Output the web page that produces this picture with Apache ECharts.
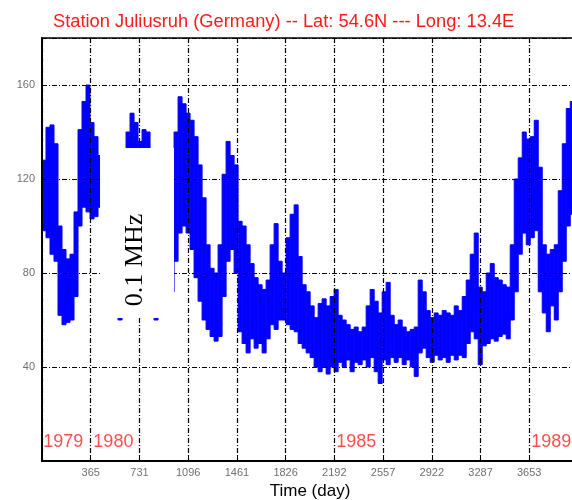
<!DOCTYPE html>
<html>
<head>
<meta charset="utf-8">
<script src="https://cdn.jsdelivr.net/npm/echarts@6/dist/echarts.min.js"></script>
<style>
  html, body { margin: 0; padding: 0; background: #fff; }
  #chart { width: 572px; height: 500px; }
</style>
</head>
<body>
<div id="chart"></div>
<script>
// 0.1 MHz noise level, binned every 30 days: low / high of each bin
const binDays = 30;
const lowVals = [
  98, 95, 88, 85, 62, 58, 59, 60, 70, 100,
  108, 106, 103, 104, 108, 95, 85, 75, 66, 60,
  70, 95, 105, 105, 100, 95, 90, 75, 60, 68,
  80, 90, 72, 85, 97, 100, 97, 90, 78, 68,
  60, 56, 53, 51, 53, 70, 85, 90, 80, 55,
  50, 46, 52, 48, 50, 46, 52, 58, 56, 60,
  60, 58, 56, 55, 50, 48, 46, 44, 40, 38,
  40, 37, 40, 38, 42, 40, 43, 38, 42, 41,
  43, 40, 44, 38, 33, 43, 41, 44, 42, 44,
  41, 43, 40, 36, 46, 48, 44, 42, 45, 43,
  44, 42, 45, 43, 45, 44, 50, 55, 52, 41,
  49, 50, 52, 51, 53, 54, 52, 60, 72, 88,
  97, 92, 95, 98, 72, 63, 55, 66, 60, 72,
  85, 100, 105
];
const highVals = [
  128, 142, 143, 135, 100, 90, 86, 88, 106, 141,
  153, 160, 144, 138, 130, 128, 122, 115, 110, 112,
  125, 140, 148, 144, 136, 141, 140, 125, 110, 112,
  125, 132, 119, 140, 155, 152, 148, 145, 138, 126,
  112, 92, 82, 80, 92, 122, 136, 130, 126, 102,
  100, 92, 84, 78, 75, 73, 77, 92, 101, 85,
  80, 95, 105, 109, 87, 75, 72, 66, 61, 67,
  69, 66, 70, 73, 62, 60, 58, 56, 57, 55,
  57, 66, 73, 68, 63, 72, 76, 62, 58, 60,
  57, 55, 56, 57, 77, 72, 64, 61, 63, 62,
  64, 63, 62, 66, 64, 70, 77, 88, 97, 74,
  72, 80, 84, 78, 77, 75, 74, 92, 120, 129,
  140, 137, 138, 145, 125, 92, 88, 90, 92, 115,
  135, 150, 153
];

// x axis: year boundaries in days
const yearDays = 365.25;
const dayMax = 4018;

// red year marks inside the plot
const yearNames = ['1979', '1980', '1985', '1989'];
const yearStart = [10, 385, 2206, 3668];
const yearLabelLevel = 8;

const titleText = 'Station Juliusruh (Germany) -- Lat: 54.6N --- Long: 13.4E';

// one [start, end, low, high] record per bin
const binData = lowVals.map((lo, i) => [i * binDays, (i + 1) * binDays, lo, highVals[i]]);

const gridLine = {
  show: true,
  lineStyle: { color: '#000', width: 1.2, type: [5, 2, 1, 2] }
};

const chart = echarts.init(document.getElementById('chart'));
chart.setOption({
  animation: false,
  title: {
    text: titleText,
    left: 53,
    top: 13,
    padding: 0,
    textStyle: { color: '#ff1a1a', fontSize: 18.3, fontWeight: 'normal', fontFamily: 'Liberation Sans' }
  },
  grid: {
    left: 42, top: 38, width: 536, height: 423,
    show: true, borderColor: '#000', borderWidth: 1.5,
    containLabel: false,
    outerBoundsMode: 'none'
  },
  xAxis: {
    type: 'value',
    min: 0, max: dayMax, interval: yearDays,
    z: 10,
    axisLine: { lineStyle: { color: '#000', width: 2 } },
    axisTick: { inside: true, length: 5, lineStyle: { color: '#000' } },
    axisLabel: {
      color: '#707070', fontSize: 11, fontFamily: 'Liberation Sans', margin: 6,
      formatter: v => (v === 0 || v > 4000 ? '' : String(Math.round(v)))
    },
    splitLine: gridLine,
    name: 'Time (day)',
    nameLocation: 'middle',
    nameGap: 22,
    nameTextStyle: { color: '#000', fontSize: 17, fontFamily: 'Liberation Sans', verticalAlign: 'top' }
  },
  yAxis: {
    type: 'value',
    min: 0, max: 180, interval: 40,
    z: 10,
    axisLine: { show: true, lineStyle: { color: '#000', width: 2 } },
    axisTick: { show: true, inside: true, length: 5, lineStyle: { color: '#000' } },
    axisLabel: {
      color: '#707070', fontSize: 11, fontFamily: 'Liberation Sans', margin: 7,
      showMaxLabel: false,
      formatter: v => (v === 0 ? '' : String(v))
    },
    splitLine: gridLine
  },
  series: [
    {
      type: 'custom',
      data: binData,
      z: 1,
      clip: true,
      encode: { x: [0, 1], y: [2, 3] },
      renderItem: (params, api) => {
        const p0 = api.coord([api.value(0), api.value(3)]);
        const p1 = api.coord([api.value(1), api.value(2)]);
        return {
          type: 'rect',
          shape: { x: p0[0], y: p0[1], width: p1[0] - p0[0], height: p1[1] - p0[1] },
          style: { fill: '#0000ff', stroke: '#0000ff', lineWidth: 1 }
        };
      }
    },
    {
      type: 'scatter',
      symbolSize: 0,
      z: 12,
      data: yearNames.map((n, i) => ({ name: n, value: [yearStart[i], yearLabelLevel] })),
      label: {
        show: true, position: 'right', distance: 0,
        formatter: p => p.name,
        color: '#ff2020', fontSize: 18, fontFamily: 'Liberation Sans'
      }
    }
  ],
  graphic: [
    { type: 'rect', z: 100, shape: { x: 100, y: 148, width: 74, height: 170 }, style: { fill: '#fff' } },
    {
      type: 'text', z: 101, x: 135, y: 260, rotation: Math.PI / 2,
      style: {
        text: '0.1 MHz', fill: '#000', font: '26px "Liberation Serif"',
        textAlign: 'center', textVerticalAlign: 'middle'
      }
    }
  ]
});
</script>
</body>
</html>
